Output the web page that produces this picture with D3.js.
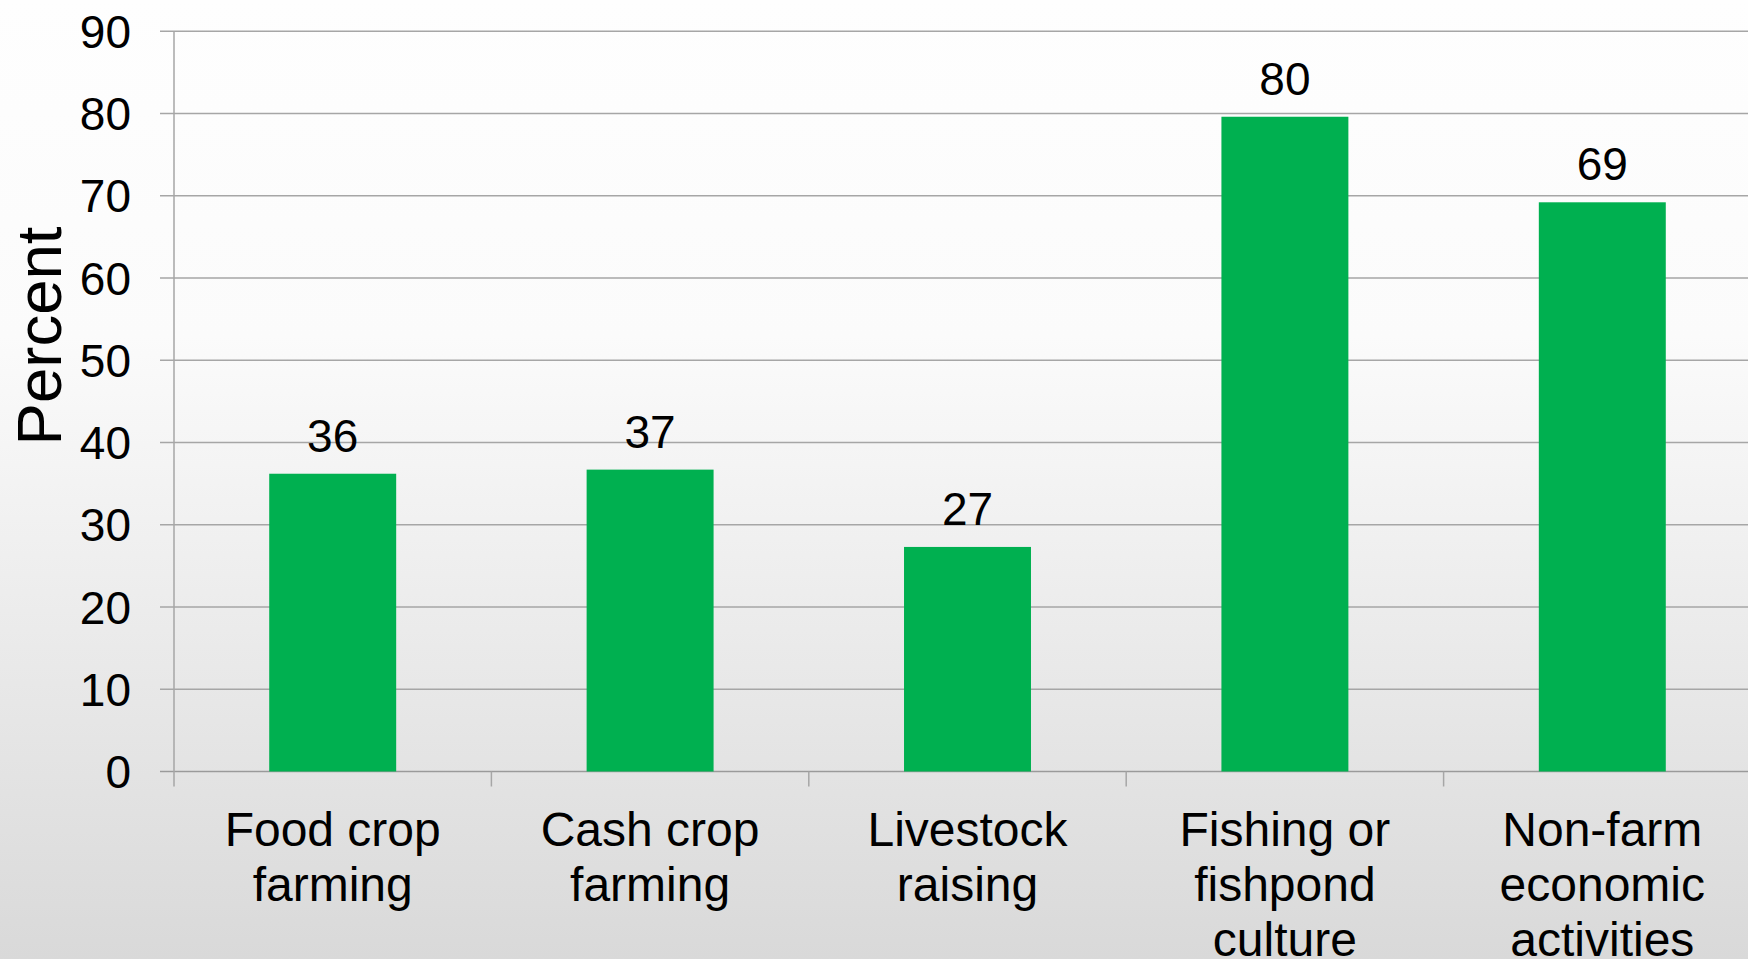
<!DOCTYPE html>
<html>
<head>
<meta charset="utf-8">
<script src="https://cdn.jsdelivr.net/npm/d3@7"></script>
<style>
html,body{margin:0;padding:0;overflow:hidden;}
svg{display:block;font-family:"Liberation Sans",Arial,sans-serif;}
</style>
</head>
<body>
<script>
const categories = [
  ["Food crop", "farming"],
  ["Cash crop", "farming"],
  ["Livestock", "raising"],
  ["Fishing or", "fishpond", "culture"],
  ["Non-farm", "economic", "activities"]
];
const values = [36.2, 36.7, 27.3, 79.6, 69.2];
const valueLabels = ["36", "37", "27", "80", "69"];
const yTicks = [0, 10, 20, 30, 40, 50, 60, 70, 80, 90];
const yTitle = "Percent";

const W = 1748, H = 959;
const svg = d3.select("body").append("svg").attr("width", W).attr("height", H);

const defs = svg.append("defs");
const grad = defs.append("linearGradient").attr("id", "bg").attr("x1", 0).attr("y1", 0).attr("x2", 0).attr("y2", 1);
grad.append("stop").attr("offset", "0%").attr("stop-color", "#fefefe");
grad.append("stop").attr("offset", "35%").attr("stop-color", "#fbfbfb");
grad.append("stop").attr("offset", "100%").attr("stop-color", "#d9d9d9");
svg.append("rect").attr("width", W).attr("height", H).attr("fill", "url(#bg)");

const x0 = 174, y0 = 771.5, yTop = 31.2;
const step = 317.4;
const x = d3.scaleBand().domain(d3.range(categories.length))
  .range([x0, x0 + step * categories.length]).paddingInner(0.6).paddingOuter(0.3);
const y = d3.scaleLinear().domain([0, 90]).range([y0, yTop]);

const gridColor = "#a6a6a6";
svg.append("g").selectAll("line").data(yTicks).join("line")
  .attr("x1", x0 - 14).attr("x2", W)
  .attr("y1", d => y(d)).attr("y2", d => y(d))
  .attr("stroke", d => d === 0 ? "#9a9a9a" : gridColor).attr("stroke-width", 1.5);

svg.append("line").attr("x1", x0).attr("x2", x0).attr("y1", yTop).attr("y2", y0 + 15)
  .attr("stroke", gridColor).attr("stroke-width", 1.5);

svg.append("g").selectAll("line").data(d3.range(1, categories.length + 1)).join("line")
  .attr("x1", d => x0 + step * d).attr("x2", d => x0 + step * d)
  .attr("y1", y0).attr("y2", y0 + 15)
  .attr("stroke", gridColor).attr("stroke-width", 1.5);

svg.append("g").selectAll("text").data(yTicks).join("text")
  .attr("x", 131).attr("y", d => y(d)).attr("dy", "0.36em")
  .attr("text-anchor", "end").attr("font-size", 46).attr("fill", "#000")
  .text(d => d);

svg.append("g").selectAll("rect").data(values).join("rect")
  .attr("x", (d, i) => x(i)).attr("width", x.bandwidth())
  .attr("y", d => y(d)).attr("height", d => y0 - y(d))
  .attr("fill", "#00b050");

svg.append("g").selectAll("text").data(values).join("text")
  .attr("x", (d, i) => x(i) + x.bandwidth() / 2).attr("y", d => y(d) - 22)
  .attr("text-anchor", "middle").attr("font-size", 46).attr("fill", "#000")
  .text((d, i) => valueLabels[i]);

const cl = svg.append("g").selectAll("text").data(categories).join("text")
  .attr("text-anchor", "middle").attr("font-size", 48).attr("fill", "#000");
cl.selectAll("tspan").data((d, i) => d.map(s => ({s, i}))).join("tspan")
  .attr("x", d => x(d.i) + x.bandwidth() / 2)
  .attr("y", (d, j) => 845.7 + j * 55)
  .text(d => d.s);

svg.append("text").attr("transform", "translate(61,336) rotate(-90)")
  .attr("text-anchor", "middle").attr("font-size", 63.5).attr("fill", "#000")
  .text(yTitle);
</script>
</body>
</html>
